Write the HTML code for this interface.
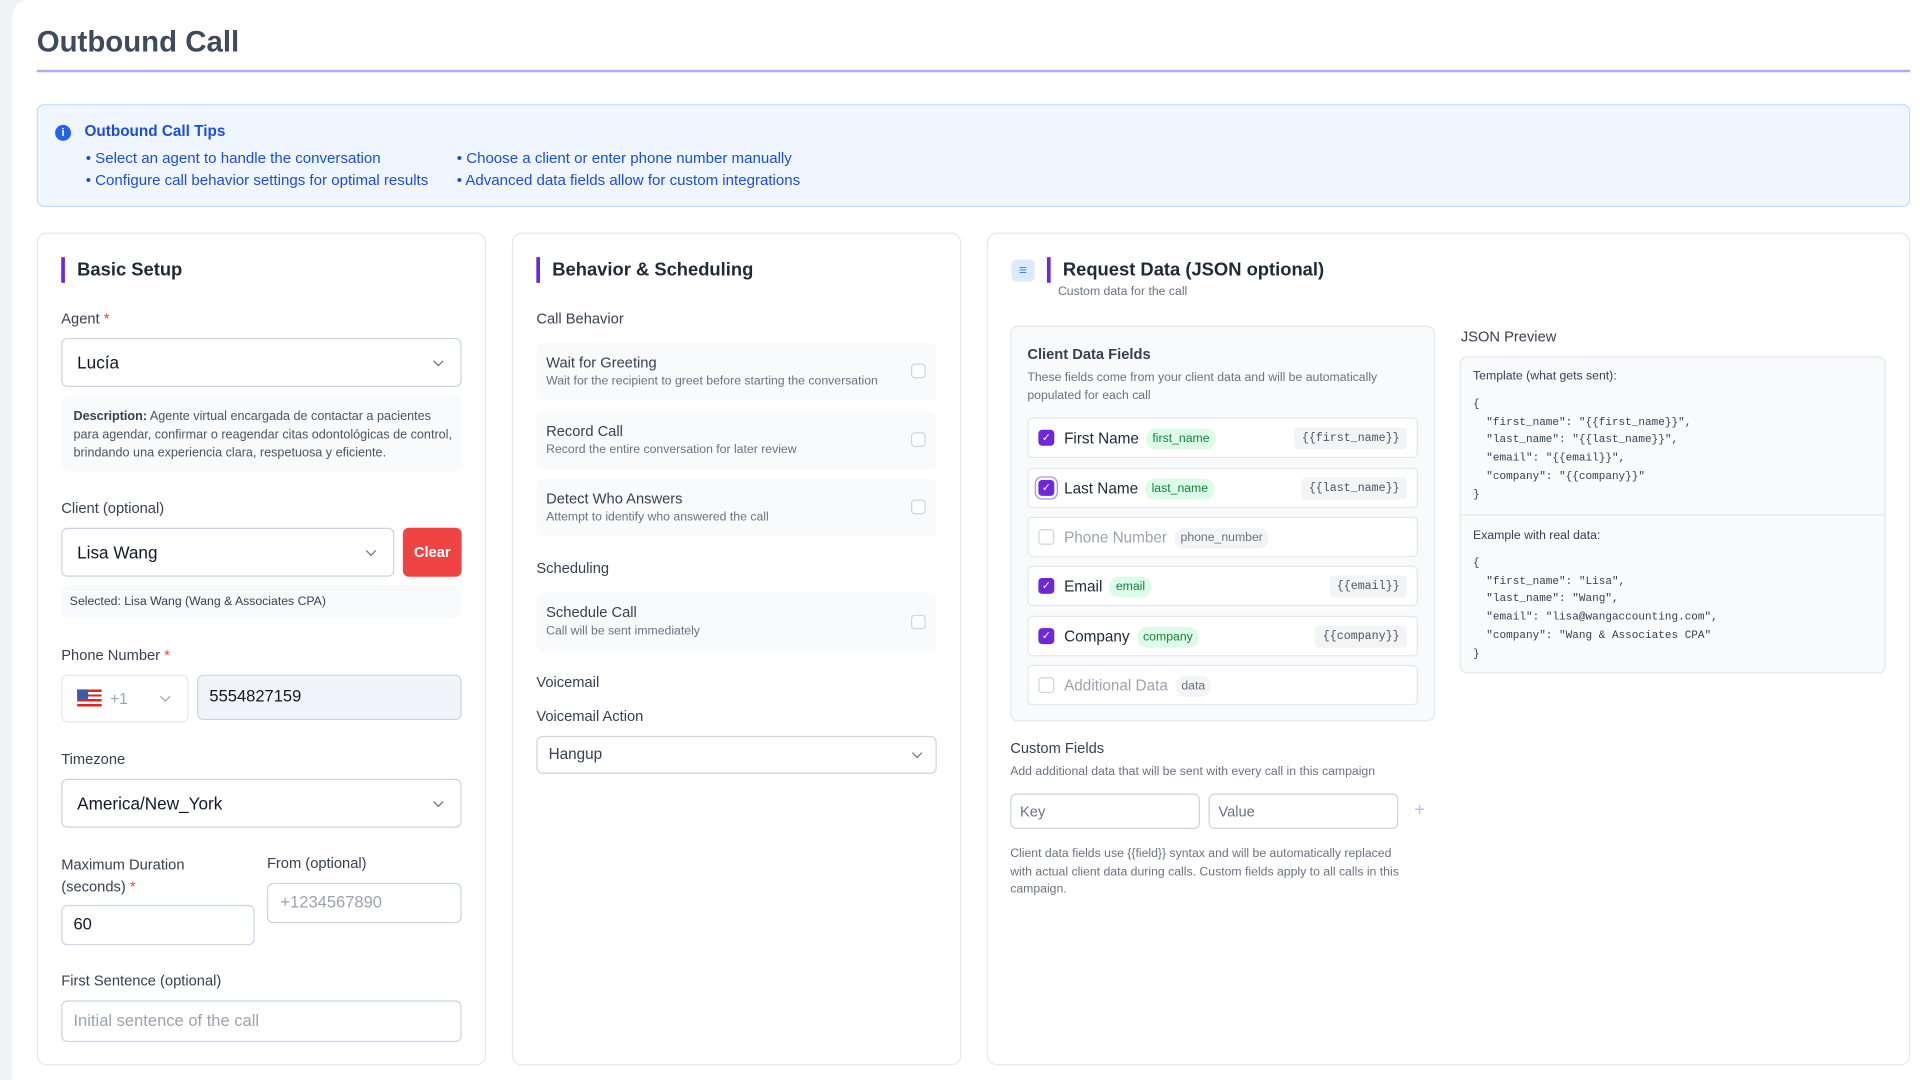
<!DOCTYPE html>
<html><head><meta charset="utf-8"><style>
*{box-sizing:border-box;margin:0;padding:0}
html,body{width:1920px;height:1080px;overflow:hidden;background:#fff}
body{font-family:"Liberation Sans",sans-serif}
#wrap{position:absolute;left:0;top:0;width:1568px;height:882px;transform:scale(1.22449);transform-origin:0 0;background:#f1f2f5}
#main{position:absolute;left:10px;top:0;width:1558px;height:882px;background:#fff;border-top-left-radius:14px}
.a{position:absolute;white-space:nowrap}
.t{line-height:16px}
.lbl{font-size:12px;color:#374151}
.req{color:#ef4444}
.panel{position:absolute;top:190px;height:680px;border:1px solid #e5e7eb;border-radius:8px;background:#fff}
.bar{position:absolute;width:3px;height:21px;background:#6d28d9;top:210px}
.h{font-size:15px;font-weight:bold;color:#1f2937;line-height:20px}
.box{position:absolute;border:1px solid #cbd5e1;border-radius:5px;background:#fff}
.chev{position:absolute;width:6px;height:6px;border-right:1.3px solid #6b7280;border-bottom:1.3px solid #6b7280;transform:rotate(45deg)}
.soft{position:absolute;background:#f8fafc;border-radius:6px}
.row{position:absolute;left:438px;width:327px;height:47px;background:#f8fafc;border-radius:6px}
.rt{position:absolute;left:8px;top:9px;font-size:12px;color:#374151}
.rd{position:absolute;left:8px;top:26px;font-size:10px;color:#6b7280}
.cb{position:absolute;width:12px;height:12px;border:1px solid #cbd5e1;border-radius:3px;background:#fff}
.fr{position:absolute;left:839px;width:319px;height:33px;background:#fff;border:1px solid #e5e7eb;border-radius:4px}
.fr .c{position:absolute;left:8px;top:9px;width:13px;height:13px;border-radius:3px;background:#6d28d9;color:#fff;font-size:9px;line-height:13px;text-align:center}
.fr .c.off{background:#fff;border:1px solid #d1d5db}
.fr .n{position:absolute;left:29px;top:8px;font-size:12.5px;color:#1f2937;line-height:16px}
.fr .n.off{color:#9ca3af}
.fr .g{display:inline-block;margin-left:6px;padding:2px 5px;border-radius:8px;background:#dcfce7;color:#15803d;font-size:10px;line-height:13px;vertical-align:1px}
.fr .g.off{background:#f3f4f6;color:#6b7280}
.fr .code{position:absolute;right:8px;top:7px;padding:2px 6px;background:#f3f4f6;border-radius:3px;font-family:"Liberation Mono",monospace;font-size:9.5px;color:#4b5563;line-height:14px}
.mono{font-family:"Liberation Mono",monospace;font-size:9px;color:#374151;line-height:14.7px;white-space:pre}
.sm{font-size:10px;color:#6b7280}
</style></head><body>
<div id="wrap"><div id="main"></div>

<div class="a" style="left:30px;top:20px;font-size:24px;font-weight:bold;color:#3f4a5a;line-height:30px">Outbound Call</div>
<div class="a" style="left:30px;top:57px;width:1530px;height:1.5px;background:#b9a4f5"></div>

<div class="a" style="left:30px;top:85px;width:1530px;height:84px;background:#eff6ff;border:1px solid #bfdbfe;border-radius:6px"></div>
<div class="a" style="left:45px;top:102px;width:13px;height:13px;border-radius:50%;background:#2563eb;color:#fff;font-size:9px;font-weight:bold;text-align:center;line-height:13px">i</div>
<div class="a t" style="left:69px;top:99px;font-size:12.5px;font-weight:bold;color:#1d4ed8">Outbound Call Tips</div>
<div class="a t" style="left:70px;top:121px;font-size:12.3px;color:#1d4ed8">• Select an agent to handle the conversation</div>
<div class="a t" style="left:70px;top:139px;font-size:12.3px;color:#1d4ed8">• Configure call behavior settings for optimal results</div>
<div class="a t" style="left:373px;top:121px;font-size:12.3px;color:#1d4ed8">• Choose a client or enter phone number manually</div>
<div class="a t" style="left:373px;top:139px;font-size:12.3px;color:#1d4ed8">• Advanced data fields allow for custom integrations</div>

<!-- Panel 1 -->
<div class="panel" style="left:30px;width:367px"></div>
<div class="bar" style="left:50px"></div>
<div class="a h" style="left:63px;top:211px">Basic Setup</div>
<div class="a t lbl" style="left:50px;top:252px">Agent <span class="req">*</span></div>
<div class="box" style="left:50px;top:276px;width:327px;height:40px"></div>
<div class="a t" style="left:63px;top:288px;font-size:14px;color:#111827">Lucía</div>
<div class="chev" style="left:355px;top:292px"></div>
<div class="soft" style="left:50px;top:323px;width:327px;height:62px"></div>
<div class="a" style="left:60px;top:333px;font-size:10.3px;color:#4b5563;line-height:15px;white-space:normal;width:310px"><span style="color:#374151;font-weight:bold">Description:</span> Agente virtual encargada de contactar a pacientes para agendar, confirmar o reagendar citas odontológicas de control, brindando una experiencia clara, respetuosa y eficiente.</div>
<div class="a t lbl" style="left:50px;top:407px">Client (optional)</div>
<div class="box" style="left:50px;top:431px;width:272px;height:40px"></div>
<div class="a t" style="left:63px;top:443px;font-size:14px;color:#111827">Lisa Wang</div>
<div class="chev" style="left:300px;top:447px"></div>
<div class="a" style="left:329px;top:431px;width:48px;height:40px;background:#ef4444;border-radius:5px;color:#fff;font-size:12px;font-weight:bold;text-align:center;line-height:40px">Clear</div>
<div class="soft" style="left:50px;top:478px;width:327px;height:27px"></div>
<div class="a t" style="left:57px;top:484px;font-size:10px;color:#374151">Selected: Lisa Wang (Wang &amp; Associates CPA)</div>
<div class="a t lbl" style="left:50px;top:527px">Phone Number <span class="req">*</span></div>
<div class="box" style="left:50px;top:551px;width:104px;height:39px;border-color:#e5e7eb"></div>
<div class="a" style="left:63px;top:563px;width:20px;height:14px;background:repeating-linear-gradient(#dc2626 0 2px,#fff 2px 4px)"></div>
<div class="a" style="left:63px;top:563px;width:9px;height:8px;background:#3b5bab"></div>
<div class="a t" style="left:90px;top:563px;font-size:12.5px;color:#9ca3af">+1</div>
<div class="chev" style="left:132px;top:566px;border-color:#9ca3af"></div>
<div class="box" style="left:161px;top:551px;width:216px;height:37px;background:#f1f5f9"></div>
<div class="a t" style="left:171px;top:561px;font-size:13.5px;color:#111827">5554827159</div>
<div class="a t lbl" style="left:50px;top:612px">Timezone</div>
<div class="box" style="left:50px;top:636px;width:327px;height:40px"></div>
<div class="a t" style="left:63px;top:648px;font-size:14px;color:#111827">America/New_York</div>
<div class="chev" style="left:355px;top:652px"></div>
<div class="a lbl" style="left:50px;top:697px;line-height:18px">Maximum Duration<br>(seconds) <span class="req">*</span></div>
<div class="a t lbl" style="left:218px;top:697px">From (optional)</div>
<div class="box" style="left:50px;top:739px;width:158px;height:33px"></div>
<div class="a t" style="left:60px;top:747px;font-size:13.5px;color:#111827">60</div>
<div class="box" style="left:218px;top:721px;width:159px;height:33px"></div>
<div class="a t" style="left:229px;top:729px;font-size:13.5px;color:#9ca3af">+1234567890</div>
<div class="a t lbl" style="left:50px;top:793px">First Sentence (optional)</div>
<div class="box" style="left:50px;top:817px;width:327px;height:34px"></div>
<div class="a t" style="left:60px;top:826px;font-size:13.5px;color:#9ca3af">Initial sentence of the call</div>

<!-- Panel 2 -->
<div class="panel" style="left:418px;width:367px"></div>
<div class="bar" style="left:438px"></div>
<div class="a h" style="left:451px;top:211px">Behavior &amp; Scheduling</div>
<div class="a t lbl" style="left:438px;top:252px">Call Behavior</div>
<div class="row" style="top:280px"><div class="rt">Wait for Greeting</div><div class="rd">Wait for the recipient to greet before starting the conversation</div><div class="cb" style="left:306px;top:17px"></div></div>
<div class="row" style="top:336px"><div class="rt">Record Call</div><div class="rd">Record the entire conversation for later review</div><div class="cb" style="left:306px;top:17px"></div></div>
<div class="row" style="top:391px"><div class="rt">Detect Who Answers</div><div class="rd">Attempt to identify who answered the call</div><div class="cb" style="left:306px;top:17px"></div></div>
<div class="a t lbl" style="left:438px;top:456px">Scheduling</div>
<div class="row" style="top:484px;height:48px"><div class="rt">Schedule Call</div><div class="rd">Call will be sent immediately</div><div class="cb" style="left:306px;top:18px"></div></div>
<div class="a t lbl" style="left:438px;top:549px">Voicemail</div>
<div class="a t lbl" style="left:438px;top:577px">Voicemail Action</div>
<div class="box" style="left:438px;top:601px;width:327px;height:31px;border-color:#d1d5db"></div>
<div class="a t" style="left:448px;top:608px;font-size:12.5px;color:#374151">Hangup</div>
<div class="chev" style="left:746px;top:612px"></div>

<!-- Panel 3 -->
<div class="panel" style="left:806px;width:754px"></div>
<div class="a" style="left:826px;top:212px;width:19px;height:18px;background:#dbeafe;border-radius:4px;color:#3b82f6;font-size:11px;text-align:center;line-height:18px">≡</div>
<div class="bar" style="left:855px"></div>
<div class="a h" style="left:868px;top:211px">Request Data (JSON optional)</div>
<div class="a t sm" style="left:864px;top:231px">Custom data for the call</div>

<div class="a" style="left:825px;top:266px;width:347px;height:323px;background:#f8fafc;border:1px solid #e5e7eb;border-radius:6px"></div>
<div class="a t" style="left:839px;top:281px;font-size:12px;font-weight:bold;color:#374151">Client Data Fields</div>
<div class="a sm" style="left:839px;top:301px;line-height:15px">These fields come from your client data and will be automatically<br>populated for each call</div>
<div class="fr" style="top:341px"><div class="c">✓</div><div class="n">First Name<span class="g">first_name</span></div><div class="code">{{first_name}}</div></div>
<div class="fr" style="top:382px"><div class="c" style="box-shadow:0 0 0 2px #fff,0 0 0 3px #a78bfa">✓</div><div class="n">Last Name<span class="g">last_name</span></div><div class="code">{{last_name}}</div></div>
<div class="fr" style="top:422px"><div class="c off"></div><div class="n off">Phone Number<span class="g off">phone_number</span></div></div>
<div class="fr" style="top:462px"><div class="c">✓</div><div class="n">Email<span class="g">email</span></div><div class="code">{{email}}</div></div>
<div class="fr" style="top:503px"><div class="c">✓</div><div class="n">Company<span class="g">company</span></div><div class="code">{{company}}</div></div>
<div class="fr" style="top:543px"><div class="c off"></div><div class="n off">Additional Data<span class="g off">data</span></div></div>

<div class="a t lbl" style="left:1193px;top:267px">JSON Preview</div>
<div class="a" style="left:1192px;top:291px;width:348px;height:259px;background:#f8fafc;border:1px solid #e5e7eb;border-radius:6px"></div>
<div class="a" style="left:1193px;top:420px;width:346px;height:1px;background:#e5e7eb"></div>
<div class="a t" style="left:1203px;top:300px;font-size:10px;color:#374151">Template (what gets sent):</div>
<div class="a mono" style="left:1203px;top:323px">{
  "first_name": "{{first_name}}",
  "last_name": "{{last_name}}",
  "email": "{{email}}",
  "company": "{{company}}"
}</div>
<div class="a t" style="left:1203px;top:430px;font-size:10px;color:#374151">Example with real data:</div>
<div class="a mono" style="left:1203px;top:453px">{
  "first_name": "Lisa",
  "last_name": "Wang",
  "email": "lisa@wangaccounting.com",
  "company": "Wang &amp; Associates CPA"
}</div>

<div class="a t lbl" style="left:825px;top:603px">Custom Fields</div>
<div class="a t sm" style="left:825px;top:623px">Add additional data that will be sent with every call in this campaign</div>
<div class="box" style="left:825px;top:648px;width:155px;height:29px"></div>
<div class="a t" style="left:833px;top:655px;font-size:12px;color:#6b7280">Key</div>
<div class="box" style="left:987px;top:648px;width:155px;height:29px"></div>
<div class="a t" style="left:995px;top:655px;font-size:12px;color:#6b7280">Value</div>
<div class="a t" style="left:1155px;top:654px;font-size:15px;color:#c4b5fd">+</div>
<div class="a sm" style="left:825px;top:691px;line-height:14.5px">Client data fields use {{field}} syntax and will be automatically replaced<br>with actual client data during calls. Custom fields apply to all calls in this<br>campaign.</div>
</div>
</body></html>
